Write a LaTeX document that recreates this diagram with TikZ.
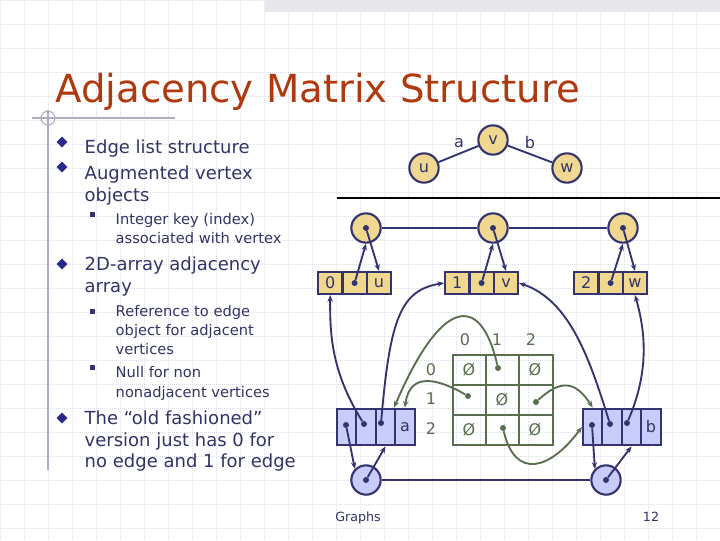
\documentclass[tikz,border=0pt]{standalone}
\usepackage{fontspec}
\setmainfont{DejaVu Sans}
\usetikzlibrary{arrows.meta}
\definecolor{navy}{HTML}{333370}
\definecolor{txt}{HTML}{333366}
\definecolor{ttl}{HTML}{B03A10}
\definecolor{vy}{HTML}{F0D890}
\definecolor{eb}{HTML}{C8CCF8}
\definecolor{grn}{HTML}{5A6E50}
\definecolor{gridc}{HTML}{DCDCE4}
\begin{document}
\begin{tikzpicture}[x=0.75pt,y=-0.75pt,
  vert/.style={circle,draw=navy,line width=1.6pt,fill=vy,minimum size=22pt,inner sep=0pt,font=\fontsize{12}{12}\selectfont,text=txt},
  evert/.style={circle,draw=navy,line width=1.6pt,fill=eb,minimum size=22pt,inner sep=0pt},
  ycell/.style={draw=navy,line width=1.6pt,fill=vy,minimum width=18pt,minimum height=16.5pt,inner sep=0pt,font=\fontsize{12}{12}\selectfont,text=txt},
  bcell/.style={draw=navy,line width=1.6pt,fill=eb,minimum width=14.6pt,minimum height=27.5pt,inner sep=0pt,font=\fontsize{12}{12}\selectfont,text=txt},
  lnk/.style={navy,line width=1.4pt},
  arr/.style={navy,line width=1.4pt,-{Stealth[length=5pt,width=4pt]}},
  garr/.style={grn,line width=1.4pt,-{Stealth[length=5pt,width=4pt]}},
  dotn/.style={circle,fill=navy,inner sep=0pt,minimum size=4.5pt},
  gdot/.style={circle,fill=grn,inner sep=0pt,minimum size=4.5pt},
  btxt/.style={anchor=base west,text=txt,font=\fontsize{13.5}{13.5}\selectfont},
  stxt/.style={anchor=base west,text=txt,font=\fontsize{11}{11}\selectfont},
  lab/.style={text=txt,font=\fontsize{12}{12}\selectfont},
  mlab/.style={text=grn,font=\fontsize{12}{12}\selectfont},
  dia/.style={fill=navy!80!blue,draw=white,line width=0.3pt}]
\useasboundingbox (0,0) rectangle (720,540);
\fill[white] (0,0) rectangle (720,540);
\foreach \i in {0,24,...,720} \draw[gridc,densely dotted,line width=0.5pt] (\i,0) -- (\i,540);
\foreach \i in {0,24,...,540} \draw[gridc,densely dotted,line width=0.5pt] (0,\i) -- (720,\i);
\fill[gridc!70] (265,0) rectangle (720,12);
% title
\node[anchor=base west,text=ttl,font=\fontsize{29}{29}\selectfont,inner sep=0pt] (title) at (55,102) {Adjacency Matrix Structure};
\draw[navy!40!white,line width=0.8pt] (32,118) -- (175,118);
\draw[navy!40!white,line width=0.8pt] (48,110) -- (48,470);
\draw[navy!40!white,line width=0.8pt] (48,118) circle (7);
% bullets
\foreach \y in {147,172,269,423} \fill[dia] (62,{\y-11}) -- (68,{\y-5}) -- (62,{\y+1}) -- (56,{\y-5}) -- cycle;
\foreach \y in {219,316,372} \fill[navy] (90,{\y-7}) rectangle (95,{\y-2});
\node[btxt] (b1) at (80,153) {Edge list structure};
\node[btxt] (b2) at (80,179) {Augmented vertex};
\node[btxt] (b2b) at (80,201) {objects};
\node[stxt] (s1) at (111,224) {Integer key (index)};
\node[stxt] (s1b) at (111,243) {associated with vertex};
\node[btxt] (b3) at (80,270) {2D-array adjacency};
\node[btxt] (b3b) at (80,292) {array};
\node[stxt] (s2) at (111,316) {Reference to edge};
\node[stxt] (s2b) at (111,335) {object for adjacent};
\node[stxt] (s2c) at (111,354) {vertices};
\node[stxt] (s3) at (111,377) {Null for non};
\node[stxt] (s3b) at (111,397) {nonadjacent vertices};
\node[btxt] (b4) at (80,424) {The “old fashioned”};
\node[btxt] (b4b) at (80,446) {version just has 0 for};
\node[btxt] (b4c) at (80,467) {no edge and 1 for edge};
\node[anchor=base,text=txt,font=\fontsize{9.5}{9.5}\selectfont] (f1) at (358,521) {Graphs};
\node[anchor=base,text=txt,font=\fontsize{9.5}{9.5}\selectfont] (f2) at (651,521) {12};
% graph
\node[vert] (gv) at (493,140) {v};
\node[vert] (gu) at (424,168) {u};
\node[vert] (gw) at (567,168) {w};
\draw[lnk] (gu) -- (gv) -- (gw);
\node[lab] (la) at (459,143) {a};
\node[lab] (lb) at (530,143) {b};
\draw[black,line width=0.8pt] (337,198) -- (720,198);
% vertex list
\node[vert] (c0) at (366,228) {};
\node[vert] (c1) at (493,228) {};
\node[vert] (c2) at (623,228) {};
\draw[lnk] (c0) -- (c1) -- (c2);
\foreach \n in {c0,c1,c2} \node[dotn] (\n d) at (\n) {};
% vertex boxes
\foreach \bx/\k/\nm [count=\j] in {318/0/u,445/1/v,574/2/w} {
  \node[ycell] (k\j) at ({\bx+12.2},283) {\k};
  \node[ycell] (p\j) at ({\bx+36.6},283) {};
  \node[ycell] (n\j) at ({\bx+61},283) {\nm};
  \node[dotn] (pd\j) at (p\j) {};
}
\draw[arr] (pd1) -- (c0.south);
\draw[arr] (pd2) -- (c1.south);
\draw[arr] (pd3) -- (c2.south);
\draw[arr] (c0d) -- (n1.north);
\draw[arr] (c1d) -- (n2.north);
\draw[arr] (c2d) -- (n3.north);
% edge boxes
\foreach \bx/\nm [count=\j] in {337/a,583/b} {
  \node[bcell] (e\j a) at ({\bx+9.7},427) {};
  \node[bcell] (e\j b) at ({\bx+29.1},427) {};
  \node[bcell] (e\j c) at ({\bx+48.5},427) {};
  \node[bcell] (e\j d) at ({\bx+67.9},427) {\nm};
  \node[dotn] (e\j ad) at ({\bx+9},425) {};
  \node[dotn] (e\j bd) at ({\bx+27},424) {};
  \node[dotn] (e\j cd) at ({\bx+44},423) {};
}
\node[evert] (x0) at (366,480) {};
\node[evert] (x1) at (606,480) {};
\draw[lnk] (x0) -- (x1);
\node[dotn] (x0d) at (x0) {};
\node[dotn] (x1d) at (x1) {};
\draw[arr] (e1ad) -- (x0.north west);
\draw[arr] (x0d) -- (e1c.south);
\draw[arr] (e2ad) -- (x1.north west);
\draw[arr] (x1d) -- (e2c.south);
\draw[arr] (e1bd) .. controls (330,370) and (330,330) .. (k1.south);
\draw[arr] (e1cd) .. controls (390,320) and (400,290) .. (k2.west);
\draw[arr] (e2bd) .. controls (590,360) and (570,300) .. (n2.east);
\draw[arr] (e2cd) .. controls (650,370) and (645,330) .. (n3.south);
% matrix
\draw[grn,line width=2pt] (453,355) rectangle (553,445);
\draw[grn,line width=2pt] (486,355) -- (486,445) (519,355) -- (519,445) (453,385) -- (553,385) (453,415) -- (553,415);
\foreach \x/\t in {465/0,497/1,531/2} \node[mlab] (cl\t) at (\x,340) {\t};
\foreach \y/\t in {370/0,399/1,429/2} \node[mlab] (rl\t) at (431,\y) {\t};
\foreach \x/\y [count=\q] in {469/370,535/370,502/400,469/430,535/430} \node[mlab] (nul\q) at (\x,\y) {\O};
\node[gdot] (m01) at (498,368) {};
\node[gdot] (m10) at (468,396) {};
\node[gdot] (m12) at (536,402) {};
\node[gdot] (m21) at (503,428) {};
\draw[garr] (m01) .. controls (480,290) and (440,300) .. (e1d.north west);
\draw[garr] (m10) .. controls (440,380) and (410,370) .. (e1d.north);
\draw[garr] (m12) .. controls (560,380) and (575,380) .. (e2a.north);
\draw[garr] (m21) .. controls (515,480) and (550,470) .. (e2a.west);
\end{tikzpicture}
\end{document}
